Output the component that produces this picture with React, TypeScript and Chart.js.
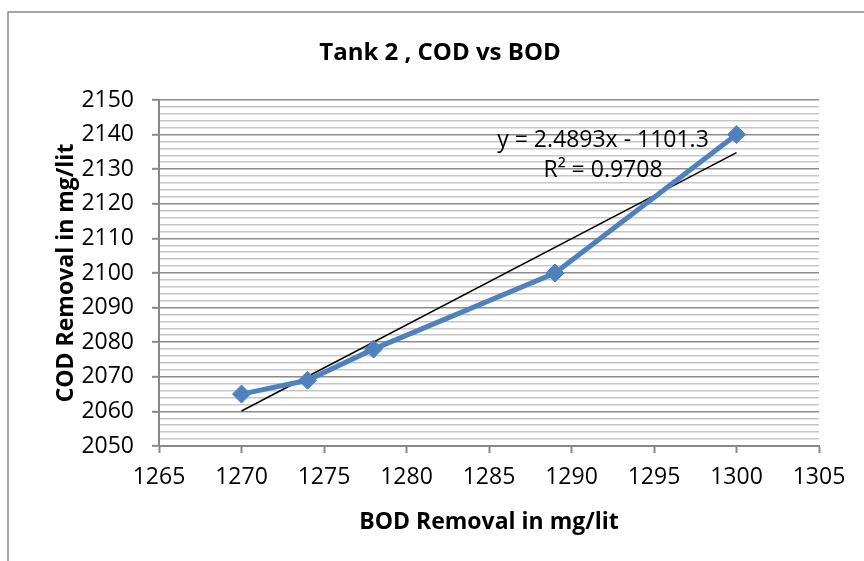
import React, { useEffect, useRef } from "react";
import { Chart, registerables } from "chart.js";

Chart.register(...registerables);

const bodValues = [1270, 1274, 1278, 1289, 1300];
const codValues = [2065, 2069, 2078, 2100, 2140];
const trendSlope = 2.4893;
const trendIntercept = -1101.3;
const trendRange = [1270, 1300];
const equationLabel = "y = 2.4893x - 1101.3";
const r2Label = "R² = 0.9708";
const chartTitle = "Tank 2 , COD vs BOD";
const xTitle = "BOD Removal in mg/lit";
const yTitle = "COD Removal in mg/lit";

const FONT = "'Open Sans', 'Liberation Sans', sans-serif";

export default function App() {
  const ref = useRef<HTMLCanvasElement | null>(null);

  useEffect(() => {
    if (!ref.current) return;
    const textPlugin = {
      id: "texts",
      afterDraw(chart: any) {
        const ctx = chart.ctx;
        const area = chart.chartArea;
        ctx.save();
        ctx.strokeStyle = "#878787";
        ctx.lineWidth = 1.5;
        ctx.beginPath();
        ctx.moveTo(8, 561);
        ctx.lineTo(8, 12);
        ctx.lineTo(864, 12);
        ctx.stroke();

        ctx.fillStyle = "#000";
        ctx.textAlign = "center";
        ctx.textBaseline = "alphabetic";
        ctx.font = `bold 24px ${FONT}`;
        ctx.fillText(chartTitle, 440, 60);

        ctx.font = `bold 23px ${FONT}`;
        ctx.fillText(xTitle, (area.left + area.right) / 2, 529);

        ctx.save();
        ctx.translate(73, (area.top + area.bottom) / 2);
        ctx.rotate(-Math.PI / 2);
        ctx.fillText(yTitle, 0, 0);
        ctx.restore();

        ctx.font = `23px ${FONT}`;
        ctx.fillText(equationLabel, 603, 147);
        ctx.fillText(r2Label, 603, 177);
        ctx.restore();
      },
    };

    const chart = new Chart(ref.current, {
      type: "scatter",
      data: {
        datasets: [
          {
            label: "Trend",
            data: trendRange.map((x) => ({ x, y: trendSlope * x + trendIntercept })),
            showLine: true,
            borderColor: "#000000",
            borderWidth: 1.5,
            pointRadius: 0,
            order: 2,
          },
          {
            label: "COD vs BOD",
            data: bodValues.map((x, i) => ({ x, y: codValues[i] })),
            showLine: true,
            borderColor: "#4F81BD",
            backgroundColor: "#4F81BD",
            borderWidth: 5,
            pointStyle: "rectRot",
            pointRadius: 9,
            pointBorderWidth: 1,
            pointBorderColor: "#4F81BD",
            pointBackgroundColor: "#4F81BD",
            order: 1,
          },
        ],
      },
      options: {
        responsive: false,
        animation: false,
        layout: { padding: { left: 0, top: 100, right: 45, bottom: 0 } },
        plugins: {
          legend: { display: false },
          title: { display: false },
          tooltip: { enabled: false },
        },
        scales: {
          x: {
            type: "linear",
            min: 1265,
            max: 1305,
            afterFit(scale: any) {
              scale.height = 115;
            },
            ticks: {
              stepSize: 5,
              color: "#000",
              font: { family: FONT, size: 23 },
              padding: 11,
              maxRotation: 0,
              callback: (v: any) => String(Math.round(v)),
            },
            grid: {
              drawOnChartArea: false,
              drawTicks: true,
              tickLength: 7,
              tickColor: "#888888",
              tickWidth: 2,
            },
            border: { color: "#888888", width: 2 },
          },
          y: {
            type: "linear",
            min: 2050,
            max: 2150,
            afterFit(scale: any) {
              scale.width = 159;
            },
            ticks: {
              stepSize: 2,
              autoSkip: false,
              color: "#000",
              font: { family: FONT, size: 23 },
              padding: 18,
              callback: (v: any) => (Math.round(v) % 10 === 0 ? String(Math.round(v)) : ""),
            },
            grid: {
              drawTicks: true,
              tickLength: 7,
              color: (c: any) =>
                Math.round(c.tick.value) % 10 === 0 ? "#8c8c8c" : "#c6c6c6",
              lineWidth: 1.6,
              tickColor: (c: any) =>
                Math.round(c.tick.value) % 10 === 0 ? "#888888" : "rgba(0,0,0,0)",
              tickWidth: 2,
            },
            border: { color: "#888888", width: 2 },
          },
        },
      },
      plugins: [textPlugin],
    } as any);
    return () => chart.destroy();
  }, []);

  return (
    <div style={{ position: "fixed", left: 0, top: 0, width: 864, height: 561, background: "#fff" }}>
      <canvas ref={ref} width={864} height={561} style={{ width: 864, height: 561, display: "block" }} />
    </div>
  );
}
